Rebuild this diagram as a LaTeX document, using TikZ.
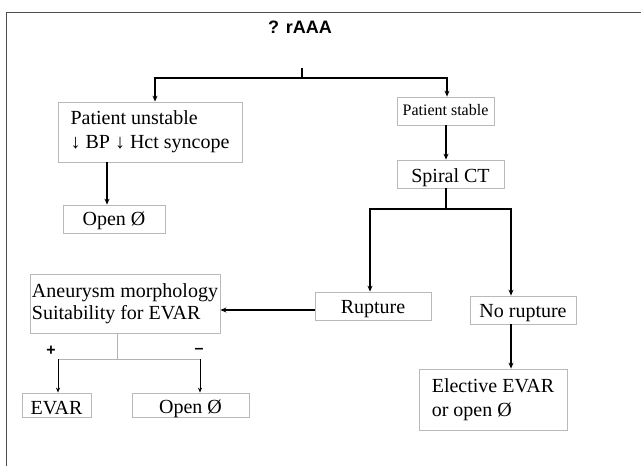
\documentclass[tikz,border=0pt]{standalone}
\usepackage{fontspec}
\setmainfont{Liberation Serif}
\newfontfamily\headfont{Liberation Sans}
\usetikzlibrary{arrows.meta}

\begin{document}
\begin{tikzpicture}[x=1pt,y=-1pt,
  box/.style={draw=gray!55, line width=0.8pt, inner sep=2pt, align=left,
    font=\fontsize{20}{24}\selectfont},
  oneline/.style={box, text height=#1, text depth=0pt},
  arr/.style={-{Stealth[length=6pt,width=5pt]}, line width=1.6pt},
  arrlight/.style={-{Stealth[length=5pt,width=4pt]}, line width=0.9pt},
  sign/.style={font=\headfont\bfseries\fontsize{16}{16}\selectfont}]
   \useasboundingbox (0,0) rectangle (641,466);
   \draw[line width=1pt, black!70] (6,466) -- (6,12) -- (641,12);

   \node[font=\headfont\bfseries\fontsize{18}{18}\selectfont] (rAAA) at (300,27) {? rAAA};
   \node[box, minimum width=184pt, minimum height=60pt] (unstable) at (150,132)
     {Patient unstable\\↓ BP ↓ Hct syncope};
   \node[oneline=9pt, font=\fontsize{16}{18}\selectfont, minimum width=97pt, minimum height=28pt]
     (stable) at (445.5,111) {Patient stable};
   \node[oneline=12pt, minimum width=102pt, minimum height=28pt] (openA) at (114,219) {Open Ø};
   \node[oneline=16pt, minimum width=107pt, minimum height=28pt] (spiral) at (450.5,174) {Spiral CT};
   \node[oneline=14pt, minimum width=116pt, minimum height=28pt] (rupture) at (373,306) {Rupture};
   \node[oneline=14pt, minimum width=106pt, minimum height=28pt] (norupture) at (523,310) {No rupture};
   \node[box, font=\fontsize{20}{22}\selectfont, minimum width=188pt, minimum height=59pt]
     (morph) at (125,303.5) {Aneurysm morphology\\Suitability for EVAR};
   \node[box, minimum width=148pt, minimum height=61pt] (elective) at (493,399.5)
     {Elective EVAR\\or open Ø};
   \node[oneline=19pt, minimum width=69pt, minimum height=24pt] (evar) at (56.5,405) {EVAR};
   \node[oneline=16pt, minimum width=117pt, minimum height=24pt] (openB) at (190.5,405) {Open Ø};
   \node[sign] (plus) at (51,351) {+};
   \node[sign] (minus) at (199,351) {–};

   % first split
   \coordinate (stem) at (302,68);
   \coordinate (fork) at (302,78);
   \draw[line width=1.6pt] (stem) -- (fork);
   \draw[arr] (fork) -| ([xshift=5pt]unstable.north);
   \draw[arr] (fork) -| ([xshift=1.5pt]stable.north);
   \draw[arr] ([xshift=-43pt]unstable.south) -- ([xshift=-7pt]openA.north);
   \draw[arr] ([xshift=0.5pt]stable.south) -- ([xshift=-4.5pt]spiral.north);

   % CT result
   \coordinate (ctfork) at (446,209);
   \draw[line width=1.6pt] ([xshift=-4.5pt]spiral.south) -- (ctfork);
   \draw[arr] (ctfork) -| ([xshift=-3pt]rupture.north);
   \draw[arr] (ctfork) -| ([xshift=-12pt]norupture.north);
   \draw[arr, line width=2.4pt] ([yshift=-4pt]rupture.west) -- ([yshift=-6.5pt]morph.east);
   \draw[arr, line width=1.2pt] ([xshift=-12pt]norupture.south) -- ([xshift=18pt]elective.north);

   % EVAR or not
   \coordinate (morphfork) at (117,359);
   \coordinate (plusend) at (58,359);
   \coordinate (minusend) at (200,359);
   \draw[gray!60, line width=0.8pt] ([xshift=-8pt]morph.south) -- (morphfork);
   \draw[gray!60, line width=0.8pt] (plusend) -- (minusend);
   \draw[arrlight] (plusend) -- (plusend |- evar.north);
   \draw[arrlight] (minusend) -- (minusend |- openB.north);
\end{tikzpicture}
\end{document}
